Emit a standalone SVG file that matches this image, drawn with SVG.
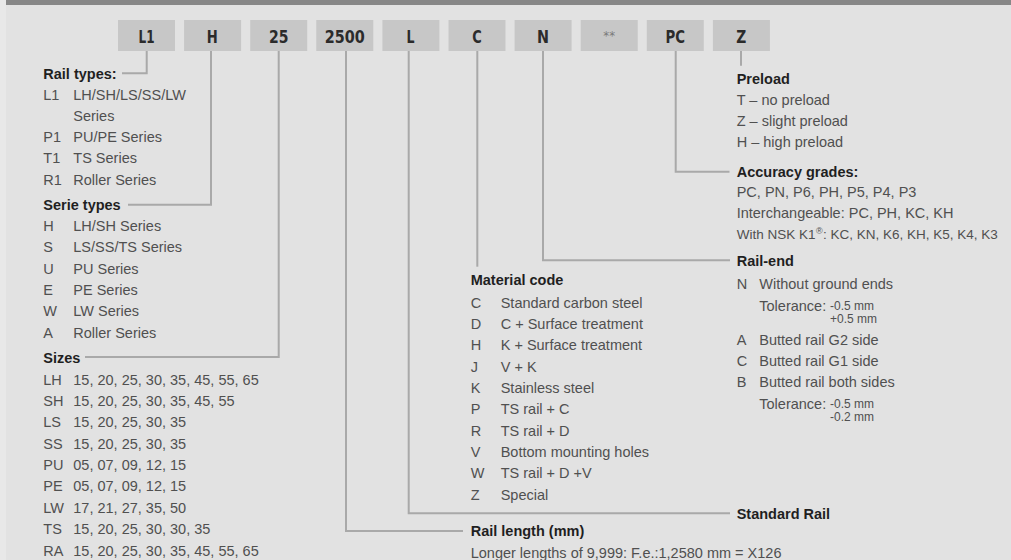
<svg xmlns="http://www.w3.org/2000/svg" width="1011" height="560" viewBox="0 0 1011 560">
<style>
.bx{fill:#c7c7c7}
.bl{font-family:"DejaVu Sans Condensed","DejaVu Sans",sans-serif;font-stretch:condensed;font-weight:bold;font-size:17.5px;fill:#2b2b2b;text-anchor:middle}
.t{font-family:"Liberation Sans",Arial,sans-serif;font-size:14.5px;fill:#505050}
.h{font-family:"Liberation Sans",Arial,sans-serif;font-size:14.5px;font-weight:bold;fill:#1f1f1f}
.s{font-family:"Liberation Sans",Arial,sans-serif;font-size:12px;fill:#505050}
.ln{fill:none;stroke:#a9a9a9;stroke-width:2}
</style>
<rect x="0" y="0" width="1011" height="560" fill="#e2e2e2"/>
<rect x="0" y="0" width="6" height="560" fill="#e8e8e8"/>
<rect x="6" y="0" width="1005" height="5" fill="#878787"/>

<g id="connectors">
<polyline class="ln" points="146.7,51 146.7,73.3 122,73.3"/>
<polyline class="ln" points="211,51 211,204.7 128,204.7"/>
<polyline class="ln" points="278.7,51 278.7,357 85,357"/>
<polyline class="ln" points="346,51 346,531 463,531"/>
<polyline class="ln" points="408.7,51 408.7,513.3 730,513.3"/>
<polyline class="ln" points="477.3,51 477.3,266.7"/>
<polyline class="ln" points="543,51 543,260.3 730,260.3"/>
<polyline class="ln" points="675.7,51 675.7,171.7 729.5,171.7"/>
<polyline class="ln" points="741,51 741,65.7"/>
</g>

<g id="box-L1"><rect class="bx" x="118" y="20" width="57" height="31"/><text class="bl" x="146.5" y="43.3" textLength="16" lengthAdjust="spacingAndGlyphs">L1</text></g>
<g id="box-H"><rect class="bx" x="184.1" y="20" width="57" height="31"/><text class="bl" x="212.3" y="43.3" textLength="11" lengthAdjust="spacingAndGlyphs">H</text></g>
<g id="box-25"><rect class="bx" x="250.2" y="20" width="57" height="31"/><text class="bl" x="278.7" y="43.3" textLength="19.5" lengthAdjust="spacingAndGlyphs">25</text></g>
<g id="box-2500"><rect class="bx" x="316.3" y="20" width="57" height="31"/><text class="bl" x="344.8" y="43.3" textLength="40" lengthAdjust="spacingAndGlyphs">2500</text></g>
<g id="box-L"><rect class="bx" x="382.4" y="20" width="57" height="31"/><text class="bl" x="410.6" y="43.3" textLength="8" lengthAdjust="spacingAndGlyphs">L</text></g>
<g id="box-C"><rect class="bx" x="448.5" y="20" width="57" height="31"/><text class="bl" x="477" y="43.3" textLength="9.5" lengthAdjust="spacingAndGlyphs">C</text></g>
<g id="box-N"><rect class="bx" x="514.6" y="20" width="57" height="31"/><text class="bl" x="543.1" y="43.3" textLength="12" lengthAdjust="spacingAndGlyphs">N</text></g>
<g id="box-stars"><rect class="bx" x="580.7" y="20" width="57" height="31"/><text class="bl" x="609.2" y="40" style="fill:#7a7a7a;font-weight:normal;font-size:13px">**</text></g>
<g id="box-PC"><rect class="bx" x="646.8" y="20" width="57" height="31"/><text class="bl" x="675.3" y="43.3" textLength="19.5" lengthAdjust="spacingAndGlyphs">PC</text></g>
<g id="box-Z"><rect class="bx" x="712.9" y="20" width="57" height="31"/><text class="bl" x="741.2" y="43.3" textLength="10" lengthAdjust="spacingAndGlyphs">Z</text></g>

<g id="rail-types">
<text class="h" x="43.3" y="78.5">Rail types:</text>
<text class="t" x="43.3" y="99.5">L1</text><text class="t" x="73.3" y="99.5">LH/SH/LS/SS/LW</text>
<text class="t" x="73.3" y="120.8">Series</text>
<text class="t" x="43.3" y="142">P1</text><text class="t" x="73.3" y="142">PU/PE Series</text>
<text class="t" x="43.3" y="163.3">T1</text><text class="t" x="73.3" y="163.3">TS Series</text>
<text class="t" x="43.3" y="184.6">R1</text><text class="t" x="73.3" y="184.6">Roller Series</text>
</g>

<g id="serie-types">
<text class="h" x="43.3" y="210">Serie types</text>
<text class="t" x="43.3" y="231">H</text><text class="t" x="73.3" y="231">LH/SH Series</text>
<text class="t" x="43.3" y="252.3">S</text><text class="t" x="73.3" y="252.3">LS/SS/TS Series</text>
<text class="t" x="43.3" y="273.6">U</text><text class="t" x="73.3" y="273.6">PU Series</text>
<text class="t" x="43.3" y="295">E</text><text class="t" x="73.3" y="295">PE Series</text>
<text class="t" x="43.3" y="316.3">W</text><text class="t" x="73.3" y="316.3">LW Series</text>
<text class="t" x="43.3" y="337.7">A</text><text class="t" x="73.3" y="337.7">Roller Series</text>
</g>

<g id="sizes">
<text class="h" x="43.3" y="362.5">Sizes</text>
<text class="t" x="43.3" y="385.3">LH</text><text class="t" x="73.3" y="385.3">15, 20, 25, 30, 35, 45, 55, 65</text>
<text class="t" x="43.3" y="406.3">SH</text><text class="t" x="73.3" y="406.3">15, 20, 25, 30, 35, 45, 55</text>
<text class="t" x="43.3" y="427.3">LS</text><text class="t" x="73.3" y="427.3">15, 20, 25, 30, 35</text>
<text class="t" x="43.3" y="448.6">SS</text><text class="t" x="73.3" y="448.6">15, 20, 25, 30, 35</text>
<text class="t" x="43.3" y="470.2">PU</text><text class="t" x="73.3" y="470.2">05, 07, 09, 12, 15</text>
<text class="t" x="43.3" y="491.4">PE</text><text class="t" x="73.3" y="491.4">05, 07, 09, 12, 15</text>
<text class="t" x="43.3" y="512.8">LW</text><text class="t" x="73.3" y="512.8">17, 21, 27, 35, 50</text>
<text class="t" x="43.3" y="534.4">TS</text><text class="t" x="73.3" y="534.4">15, 20, 25, 30, 30, 35</text>
<text class="t" x="43.3" y="555.5">RA</text><text class="t" x="73.3" y="555.5">15, 20, 25, 30, 35, 45, 55, 65</text>
</g>

<g id="material-code">
<text class="h" x="470.7" y="285.3">Material code</text>
<text class="t" x="470.7" y="307.6">C</text><text class="t" x="500.7" y="307.6">Standard carbon steel</text>
<text class="t" x="470.7" y="328.7">D</text><text class="t" x="500.7" y="328.7">C + Surface treatment</text>
<text class="t" x="470.7" y="349.8">H</text><text class="t" x="500.7" y="349.8">K + Surface treatment</text>
<text class="t" x="470.7" y="371.5">J</text><text class="t" x="500.7" y="371.5">V + K</text>
<text class="t" x="470.7" y="392.6">K</text><text class="t" x="500.7" y="392.6">Stainless steel</text>
<text class="t" x="470.7" y="414.2">P</text><text class="t" x="500.7" y="414.2">TS rail + C</text>
<text class="t" x="470.7" y="435.8">R</text><text class="t" x="500.7" y="435.8">TS rail + D</text>
<text class="t" x="470.7" y="457.1">V</text><text class="t" x="500.7" y="457.1">Bottom mounting holes</text>
<text class="t" x="470.7" y="478.3">W</text><text class="t" x="500.7" y="478.3">TS rail + D +V</text>
<text class="t" x="470.7" y="499.6">Z</text><text class="t" x="500.7" y="499.6">Special</text>
</g>

<g id="standard-rail">
<text class="h" x="736.7" y="518.6">Standard Rail</text>
</g>

<g id="rail-length">
<text class="h" x="470.7" y="536.3">Rail length (mm)</text>
<text class="t" x="470.7" y="558">Longer lengths of 9,999: F.e.:1,2580 mm = X126</text>
</g>

<g id="preload">
<text class="h" x="736.7" y="83.6">Preload</text>
<text class="t" x="736.7" y="104.6">T – no preload</text>
<text class="t" x="736.7" y="125.8">Z – slight preload</text>
<text class="t" x="736.7" y="147">H – high preload</text>
</g>

<g id="accuracy-grades">
<text class="h" x="736.7" y="177">Accuracy grades:</text>
<text class="t" x="736.7" y="197.2">PC, PN, P6, PH, P5, P4, P3</text>
<text class="t" x="736.7" y="218.3">Interchangeable: PC, PH, KC, KH</text>
<text class="t" x="736.7" y="239.4" style="font-size:13.5px">With NSK K1</text>
<text class="t" x="816" y="233.5" style="font-size:9px">®</text>
<text class="t" x="823" y="239.4" style="font-size:13.5px">: KC, KN, K6, KH, K5, K4, K3</text>
</g>

<g id="rail-end">
<text class="h" x="736.7" y="266">Rail-end</text>
<text class="t" x="736.7" y="288.6">N</text><text class="t" x="759.3" y="288.6">Without ground ends</text>
<text class="t" x="759.3" y="311">Tolerance:</text>
<text class="s" x="830" y="309.8">-0.5 mm</text>
<text class="s" x="830" y="322.6">+0.5 mm</text>
<text class="t" x="736.7" y="344.6">A</text><text class="t" x="759.3" y="344.6">Butted rail G2 side</text>
<text class="t" x="736.7" y="365.6">C</text><text class="t" x="759.3" y="365.6">Butted rail G1 side</text>
<text class="t" x="736.7" y="386.6">B</text><text class="t" x="759.3" y="386.6">Butted rail both sides</text>
<text class="t" x="759.3" y="409.3">Tolerance:</text>
<text class="s" x="830" y="408.2">-0.5 mm</text>
<text class="s" x="830" y="421.4">-0.2 mm</text>
</g>
</svg>
